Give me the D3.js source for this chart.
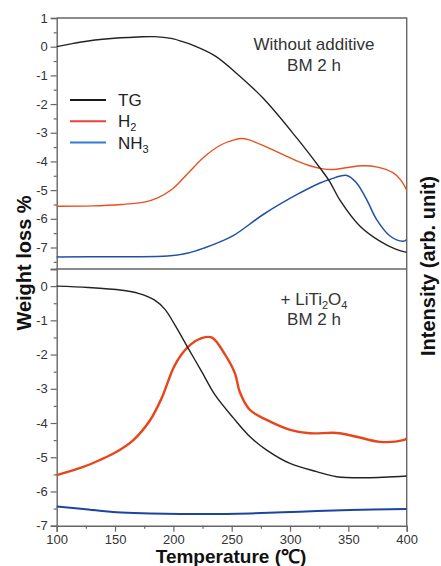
<!DOCTYPE html>
<html>
<head>
<meta charset="utf-8">
<script src="https://cdn.jsdelivr.net/npm/d3@7"></script>
<style>
  body { margin: 0; background: #fff; }
  svg { display: block; font-family: "Liberation Sans", Arial, sans-serif; }
</style>
</head>
<body>
<svg width="441" height="566"></svg>
<script>
// temperature (°C), value
const topTG = [[100,0],[110,0.08],[127,0.2],[155,0.31],[170,0.34],[184,0.35],[198,0.29],[210,0.15],[218.5,0.02],[235.7,-0.32],[252.8,-0.88],[277,-1.8],[305.7,-3.18],[325.7,-4.23],[334,-4.7],[342.8,-5.35],[360,-6.26],[377,-6.78],[390,-7.05],[400,-7.17]];
const topH2 = [[100,-5.56],[130,-5.55],[155.7,-5.5],[175,-5.42],[186,-5.28],[198.6,-4.98],[212.8,-4.4],[227,-3.82],[241.4,-3.41],[252.8,-3.24],[258,-3.2],[265,-3.25],[280,-3.5],[295,-3.78],[305.7,-3.98],[317,-4.15],[327,-4.25],[337,-4.28],[348,-4.22],[362,-4.15],[375,-4.2],[388.5,-4.4],[395,-4.65],[400,-5.0]];
const topNH3 = [[100,-7.33],[150,-7.32],[195,-7.3],[212.8,-7.19],[227,-7.01],[241.4,-6.78],[252.8,-6.55],[277,-5.85],[305.7,-5.16],[325.7,-4.75],[334,-4.63],[348.6,-4.49],[357,-4.75],[365.7,-5.33],[374.3,-6.03],[385.7,-6.6],[397,-6.78],[400,-6.72]];

const botTG = [[100,0],[127,-0.04],[155.7,-0.12],[170,-0.21],[184,-0.41],[192.8,-0.68],[201.4,-1.14],[212.8,-1.82],[224.3,-2.5],[235.7,-3.18],[251.4,-3.85],[265.7,-4.4],[280,-4.79],[300,-5.18],[322.8,-5.42],[340,-5.57],[365.7,-5.6],[400,-5.55]];
const botH2 = [[100,-5.52],[122.8,-5.28],[137,-5.08],[151.4,-4.84],[165.7,-4.5],[180,-3.92],[190,-3.27],[201.4,-2.3],[212.8,-1.77],[224.3,-1.52],[232.8,-1.5],[244.3,-2.0],[252.8,-2.55],[257,-3.1],[265.7,-3.62],[280,-3.91],[300,-4.2],[317,-4.3],[340,-4.29],[357,-4.4],[377,-4.55],[397,-4.5],[400,-4.45]];
const botNH3 = [[100,-6.44],[122.8,-6.51],[151.4,-6.61],[180,-6.64],[228.6,-6.66],[265.7,-6.64],[308.6,-6.59],[351.4,-6.54],[400,-6.51]];

const xTicks = [100, 150, 200, 250, 300, 350, 400];
const topTicks = [1, 0, -1, -2, -3, -4, -5, -6, -7];
const botTicks = [0, -1, -2, -3, -4, -5, -6, -7];
const legendItems = [
  { name: "TG", sub: "", color: "#1a1a1a" },
  { name: "H", sub: "2", color: "#e8413a" },
  { name: "NH", sub: "3", color: "#2f7fd0" }
];

const svg = d3.select("svg");
const x0 = 56.7, x1 = 406.7, yTopEdge = 18, yMid = 269, yBottom = 525.7;

const x = d3.scaleLinear().domain([100, 400]).range([x0, x1]);
const yTop = d3.scaleLinear().domain([-7.75, 1]).range([yMid, yTopEdge]);
const yBot = d3.scaleLinear().domain([-7, 0.5]).range([yBottom, yMid]);

const fmt = d => String(d);
const axisColor = "#666";

function styleAxis(g) {
  g.selectAll(".domain").attr("stroke", axisColor).attr("stroke-width", 1.4);
  g.selectAll(".tick line").attr("stroke", axisColor).attr("stroke-width", 1.2);
  g.selectAll(".tick text").attr("fill", "#333").attr("font-size", 13);
}

// left axes
svg.append("g").attr("transform", `translate(${x0},0)`)
  .call(d3.axisLeft(yTop).tickValues(topTicks).tickFormat(fmt).tickSize(6).tickPadding(3))
  .call(styleAxis);
svg.append("g").attr("transform", `translate(${x0},0)`)
  .call(d3.axisLeft(yTop).tickValues(d3.range(-7.5, 1, 1)).tickFormat("").tickSize(3))
  .call(styleAxis).call(g => g.select(".domain").remove());
svg.append("g").attr("transform", `translate(${x0},0)`)
  .call(d3.axisLeft(yBot).tickValues(botTicks).tickFormat(fmt).tickSize(6).tickPadding(3))
  .call(styleAxis);
svg.append("g").attr("transform", `translate(${x0},0)`)
  .call(d3.axisLeft(yBot).tickValues(d3.range(-6.5, 0.5, 1)).tickFormat("").tickSize(3))
  .call(styleAxis).call(g => g.select(".domain").remove());

// bottom axis
svg.append("g").attr("transform", `translate(0,${yBottom})`)
  .call(d3.axisBottom(x).tickValues(xTicks).tickFormat(fmt).tickSize(6).tickPadding(3))
  .call(styleAxis);
svg.append("g").attr("transform", `translate(0,${yBottom})`)
  .call(d3.axisBottom(x).tickValues(d3.range(125, 400, 50)).tickFormat("").tickSize(3))
  .call(styleAxis).call(g => g.select(".domain").remove());

// frame and divider
svg.append("path")
  .attr("d", `M${x0},${yTopEdge}H${x1}V${yBottom}M${x0},${yMid}H${x1}`)
  .attr("fill", "none").attr("stroke", axisColor).attr("stroke-width", 1.4);

// curves
const curve = d3.curveCatmullRom.alpha(0.5);
const lineTop = d3.line().x(d => x(d[0])).y(d => yTop(d[1])).curve(curve);
const lineBot = d3.line().x(d => x(d[0])).y(d => yBot(d[1])).curve(curve);

const series = [
  { data: topH2, line: lineTop, color: "#e8501f", w: 1.4 },
  { data: topNH3, line: lineTop, color: "#2050a8", w: 1.5 },
  { data: topTG, line: lineTop, color: "#222", w: 1.4 },
  { data: botNH3, line: lineBot, color: "#1d45a0", w: 2 },
  { data: botH2, line: lineBot, color: "#e8461a", w: 2.4 },
  { data: botTG, line: lineBot, color: "#222", w: 1.4 }
];
svg.append("g").selectAll("path").data(series).join("path")
  .attr("fill", "none")
  .attr("stroke", d => d.color)
  .attr("stroke-width", d => d.w)
  .attr("stroke-linejoin", "round")
  .attr("d", d => d.line(d.data));

// legend
const legend = svg.append("g").selectAll("g").data(legendItems).join("g")
  .attr("transform", (d, i) => `translate(70,${100 + i * 21.3})`);
legend.append("line").attr("x1", 0).attr("x2", 36)
  .attr("stroke", d => d.color).attr("stroke-width", 2);
legend.append("text").attr("x", 48).attr("y", 6)
  .attr("font-size", 17).attr("fill", "#222")
  .call(t => t.append("tspan").text(d => d.name))
  .call(t => t.append("tspan").attr("font-size", 11).attr("dy", 4).text(d => d.sub));

// annotations
const ann = svg.append("g").attr("font-size", 17).attr("fill", "#333").attr("text-anchor", "middle");
ann.append("text").attr("x", 314).attr("y", 50).text("Without additive");
ann.append("text").attr("x", 314).attr("y", 71).text("BM 2 h");
const li = ann.append("text").attr("x", 314).attr("y", 304.5);
li.append("tspan").text("+ LiTi");
li.append("tspan").attr("font-size", 11).attr("dy", 4).text("2");
li.append("tspan").attr("dy", -4).text("O");
li.append("tspan").attr("font-size", 11).attr("dy", 4).text("4");
ann.append("text").attr("x", 314).attr("y", 324.5).text("BM 2 h");

// axis titles
svg.append("text")
  .attr("transform", "translate(31,263) rotate(-90)")
  .attr("text-anchor", "middle").attr("font-size", 20).attr("font-weight", "bold").attr("fill", "#111")
  .text("Weight loss %");
svg.append("text")
  .attr("transform", "translate(435,266) rotate(-90)")
  .attr("text-anchor", "middle").attr("font-size", 20).attr("font-weight", "bold").attr("fill", "#111")
  .text("Intensity (arb. unit)");
svg.append("text")
  .attr("x", 231).attr("y", 563)
  .attr("text-anchor", "middle").attr("font-size", 19).attr("font-weight", "bold").attr("fill", "#111")
  .text("Temperature (℃)");
</script>
</body>
</html>
